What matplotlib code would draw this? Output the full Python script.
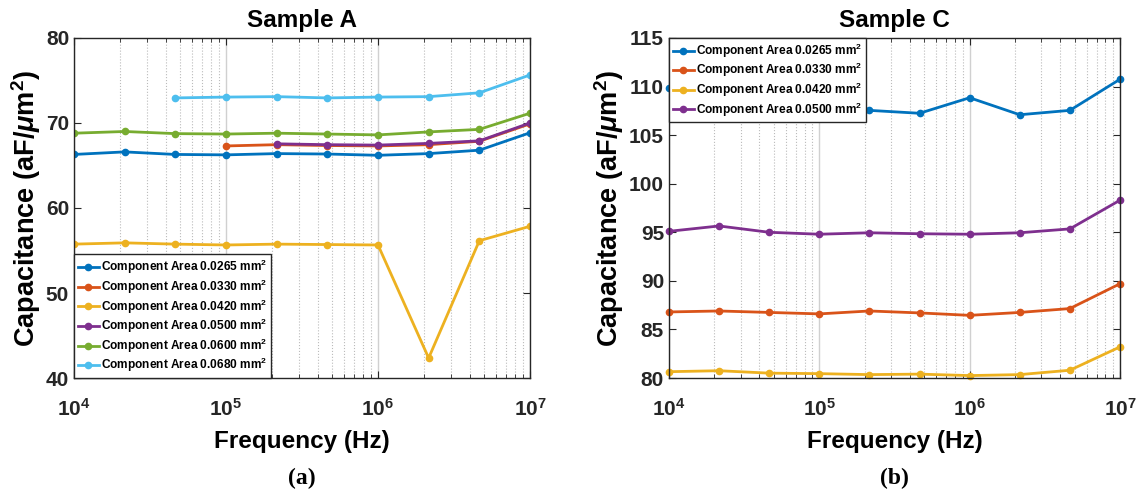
import numpy as np
import matplotlib.pyplot as plt
from matplotlib.ticker import LogLocator, FixedLocator

plt.rcParams['font.family'] = ['Liberation Sans', 'DejaVu Sans']
plt.rcParams['font.weight'] = 'bold'
plt.rcParams['mathtext.fontset'] = 'custom'
plt.rcParams['mathtext.rm'] = 'Liberation Sans:bold'
plt.rcParams['mathtext.bf'] = 'Liberation Sans:bold'
plt.rcParams['mathtext.it'] = 'Liberation Sans:bold:italic'

# frequencies (Hz), 3 points per decade
freq = [1e4, 2.154e4, 4.642e4, 1e5, 2.154e5, 4.642e5, 1e6, 2.154e6, 4.642e6, 1e7]

# Sample A
a_0265 = [66.3, 66.6, 66.3, 66.25, 66.4, 66.35, 66.2, 66.4, 66.8, 68.85]
a_0330 = [None, None, None, 67.3, 67.45, 67.35, 67.3, 67.45, 67.85, 69.9]
a_0420 = [55.75, 55.9, 55.75, 55.65, 55.75, 55.7, 55.65, 42.35, 56.15, 57.85]
a_0500 = [None, None, None, None, 67.55, 67.45, 67.4, 67.6, 67.9, 70.0]
a_0600 = [68.8, 69.0, 68.75, 68.7, 68.8, 68.7, 68.6, 68.95, 69.25, 71.15]
a_0680 = [None, None, 72.95, 73.05, 73.1, 72.95, 73.05, 73.1, 73.55, 75.65]

# Sample C
c_0265 = [109.9, 109.0, 108.3, 107.8, 107.55, 107.25, 108.85, 107.1, 107.55, 110.75]
c_0330 = [86.8, 86.9, 86.75, 86.6, 86.9, 86.7, 86.45, 86.75, 87.15, 89.7]
c_0420 = [80.65, 80.75, 80.5, 80.45, 80.35, 80.4, 80.25, 80.35, 80.8, 83.2]
c_0500 = [95.1, 95.65, 95.0, 94.8, 94.95, 94.85, 94.8, 94.95, 95.35, 98.3]

labels_a = ['0.0265', '0.0330', '0.0420', '0.0500', '0.0600', '0.0680']
labels_c = ['0.0265', '0.0330', '0.0420', '0.0500']
colors = ['#0072BD', '#D95319', '#EDB120', '#7E2F8E', '#77AC30', '#4DBEEE']


def to_arr(v):
    return np.array([np.nan if x is None else x for x in v], dtype=float)


def style_axes(ax, ylim, yticks, title, panel):
    ax.set_xscale('log')
    ax.set_xlim(1e4, 1e7)
    ax.set_ylim(*ylim)
    ax.set_yticks(yticks)
    ax.xaxis.set_major_locator(FixedLocator([1e4, 1e5, 1e6, 1e7]))
    ax.xaxis.set_minor_locator(LogLocator(base=10, subs=np.arange(2, 10)))
    ax.set_xticklabels([r'$10^{4}$', r'$10^{5}$', r'$10^{6}$', r'$10^{7}$'])
    ax.grid(True, which='major', axis='x', color='#d0d0d0', linewidth=1.0)
    ax.grid(True, which='minor', axis='x', color='#bbbbbb', linestyle=':', linewidth=0.8)
    ax.tick_params(which='both', direction='in', top=True, right=True,
                   colors='#262626', labelsize=15)
    ax.tick_params(axis='x', which='major', pad=14)
    ax.tick_params(which='major', length=5)
    ax.tick_params(which='minor', length=3)
    for s in ax.spines.values():
        s.set_color('#262626')
        s.set_linewidth(1.0)
    ax.set_title(title, fontsize=17.5, fontweight='bold', pad=8)
    ax.set_xlabel('Frequency (Hz)', fontsize=17.5, fontweight='bold', labelpad=8)
    ax.set_ylabel(r'Capacitance (aF/$\mu$m$^{2}$)', fontsize=19.5, fontweight='bold', labelpad=2)
    ax.text(0.5, -0.295, panel, transform=ax.transAxes, ha='center', va='center',
            fontsize=17, fontweight='bold', family='Liberation Serif')


fig = plt.figure(figsize=(11.42, 4.94), dpi=100)
ax1 = fig.add_axes([0.0648, 0.2348, 0.3993, 0.6883])
ax2 = fig.add_axes([0.5858, 0.2348, 0.3949, 0.6883])

for series, lab, col in zip([a_0265, a_0330, a_0420, a_0500, a_0600, a_0680], labels_a, colors):
    ax1.plot(freq, to_arr(series), '-', marker='.', markersize=9, linewidth=2,
             color=col, label='Component Area ' + lab + r' mm$^{2}$')

for series, lab, col in zip([c_0265, c_0330, c_0420, c_0500], labels_c, colors):
    ax2.plot(freq, to_arr(series), '-', marker='.', markersize=9, linewidth=2,
             color=col, label='Component Area ' + lab + r' mm$^{2}$', clip_on=False)

style_axes(ax1, (40, 80), [40, 50, 60, 70, 80], 'Sample A', '(a)')
style_axes(ax2, (80, 115), [80, 85, 90, 95, 100, 105, 110, 115], 'Sample C', '(b)')

for ax, loc in [(ax1, 'lower left'), (ax2, 'upper left')]:
    leg = ax.legend(loc=loc, handlelength=1.8, handletextpad=0.2,
                    borderpad=0.3, labelspacing=0.12, borderaxespad=0.0,
                    fancybox=False, framealpha=1, edgecolor='#262626',
                    prop={'weight': 'bold', 'size': 8.6})
    leg.get_frame().set_linewidth(1.0)

fig.savefig('out.png', dpi=100)
